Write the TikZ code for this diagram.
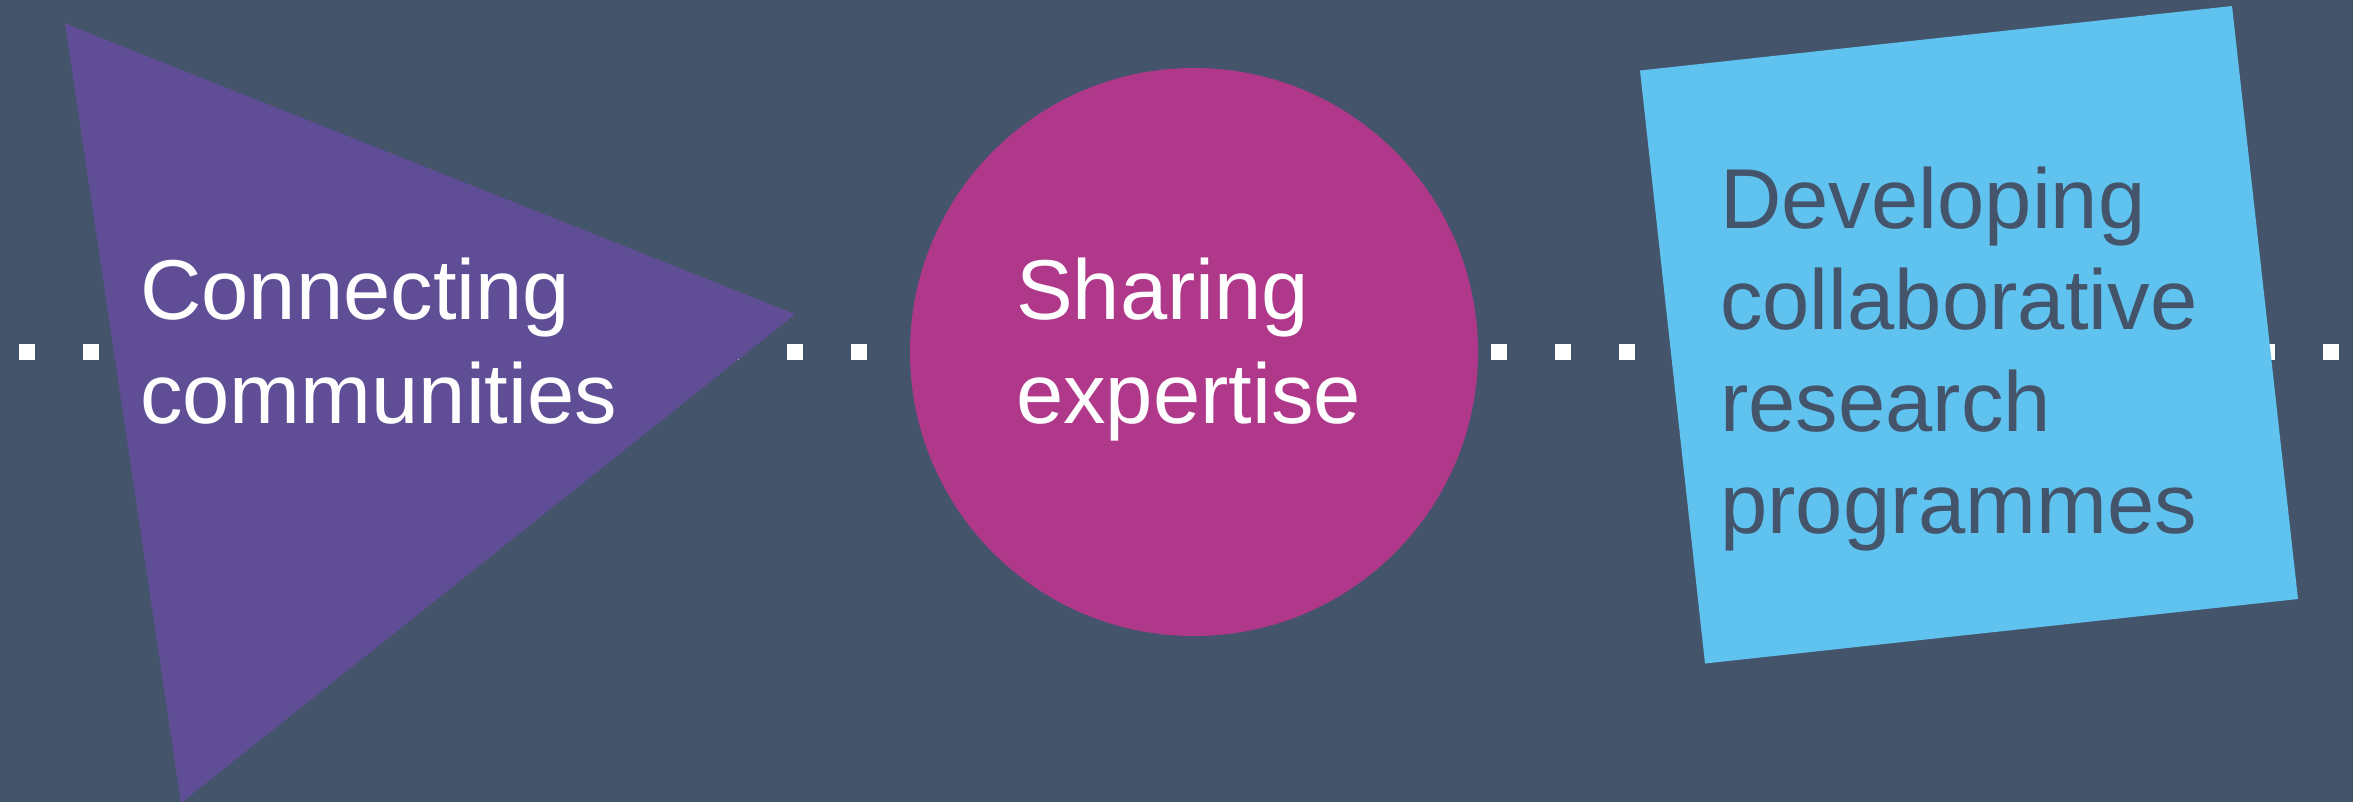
\documentclass[tikz,border=0pt]{standalone}
\usepackage{fontspec}
\setmainfont{Liberation Sans}
\definecolor{bg}{HTML}{44546A}
\definecolor{tri}{HTML}{5F4E96}
\definecolor{circ}{HTML}{B0388B}
\definecolor{sq}{HTML}{5FC2EF}
\tikzset{
  dotsq/.style={fill=white, draw=none},
  label85/.style={font=\fontsize{85}{103.5}\selectfont, align=left, inner sep=0pt, anchor=base west},
  label85b/.style={font=\fontsize{85}{101.7}\selectfont, align=left, inner sep=0pt, anchor=base west},
}
\begin{document}
\begin{tikzpicture}[x=1pt,y=-1pt]
\useasboundingbox (0,0) rectangle (2353,801);
\fill[bg] (-5,-5) rectangle (2358,806);
% dotted line
\foreach \k in {0,...,36}{
  \fill[dotsq] ({27.3+64*\k-8},344) rectangle ++(16,16);
}
% triangle
\fill[tri] (65,23.3) -- (795,314.3) -- (181,803) -- cycle;
% circle
\fill[circ] (1194,352) circle[radius=284];
% square
\fill[sq] (1640,70.5) -- (2232,6) -- (2298,599) -- (1705,663.5) -- cycle;
% texts (base anchor = baseline of last line)
\node[label85, text=white] (conn) at (140,423.3) {Connecting\\communities};
\node[label85, text=white] (share) at (1016,423.3) {Sharing\\expertise};
\node[label85b, text=bg] (dev) at (1720,533.3) {Developing\\collaborative\\research\\programmes};
\end{tikzpicture}
\end{document}
